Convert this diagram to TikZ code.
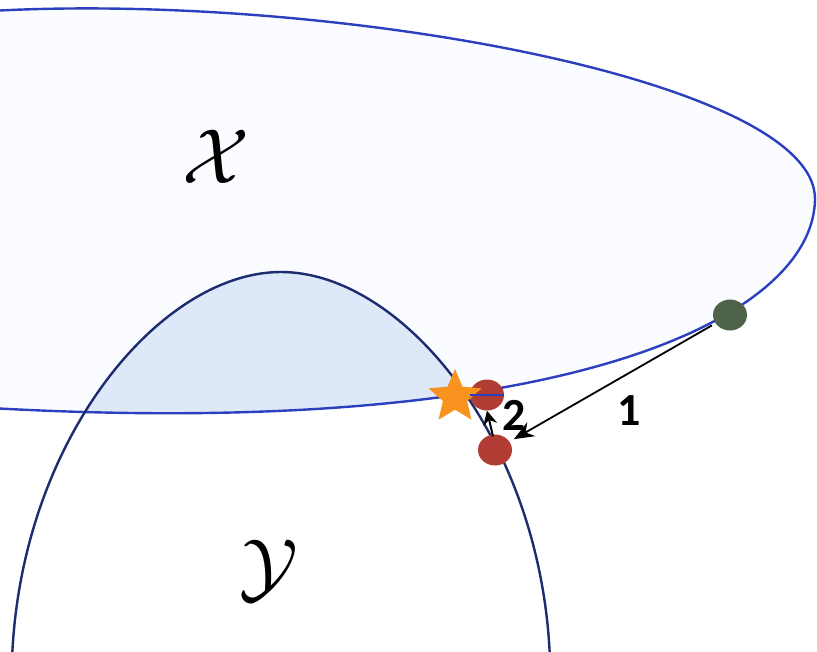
\documentclass[tikz,border=0pt]{standalone}
\usepackage{fontspec}
\usepackage{graphicx}
\newfontfamily\labfont{Carlito}
\usetikzlibrary{shapes.geometric,arrows.meta}
\definecolor{xline}{HTML}{2B3FBF}
\definecolor{yline}{HTML}{1C2C6E}
\definecolor{xfill}{HTML}{FAFCFF}
\definecolor{ifill}{HTML}{DDE8F8}
\definecolor{dotgreen}{HTML}{4F634B}
\definecolor{dotred}{HTML}{B03C34}
\definecolor{starorange}{HTML}{F7931E}
\tikzset{
  dotnode/.style={ellipse,minimum width=34pt,minimum height=31pt,inner sep=0pt},
  arr/.style={-{Stealth[length=20pt,width=16pt]},line width=1.8pt,black},
  arrs/.style={-{Stealth[length=14pt,width=14pt]},line width=2pt,black},
  numlab/.style={font=\labfont\bfseries\fontsize{46}{50}\selectfont,inner sep=0pt},
  setlab/.style={inner sep=0pt}
}
\def\Xpath{(-10,11) .. controls (330,-8) and (818,80) .. (815,200) .. controls (812,320) and (560,440) .. (-10,408) -- (-60,408) -- (-60,11) -- cycle}
\def\Ypath{(12,660) .. controls (20,440) and (160,272) .. (281,272) .. controls (402,272) and (542,440) .. (550,660)}
\begin{document}
\begin{tikzpicture}[x=1pt,y=-1pt]
\useasboundingbox (0,0) rectangle (817,651);
\clip (0,0) rectangle (817,651);
\fill[white] (0,0) rectangle (817,651);
\fill[xfill] \Xpath;
\begin{scope}
  \clip \Xpath;
  \fill[ifill] \Ypath -- cycle;
\end{scope}
\draw[xline,line width=2.4pt] \Xpath;
\draw[yline,line width=2.4pt] \Ypath;
\node[setlab] (X) at (216,157) {\scalebox{7.8}{$\mathcal{X}$}};
\node[setlab] (Y) at (269,571) {\scalebox{7.8}{$\mathcal{Y}$}};
\node[dotnode,fill=dotgreen] (g) at (730,315) {};
\node[dotnode,fill=dotred] (r1) at (487,395) {};
\node[dotnode,fill=dotred] (r2) at (495,450) {};
\node[star,star points=5,star point ratio=2.2,fill=starorange,minimum size=56pt,inner sep=0pt] (s) at (455,397) {};
\draw[xline,line width=2.4pt] (r1.west) -- (r1.east);
\draw[arr,shorten <=4pt,shorten >=5pt] (g) -- (r2);
\draw[arrs] (r2.north) ++(-2,2) coordinate (r2a) (r2a) -- (r1.south);
\node[numlab] (n1) at (629,411) {1};
\node[numlab] (n2) at (514,415) {2};
\end{tikzpicture}
\end{document}
